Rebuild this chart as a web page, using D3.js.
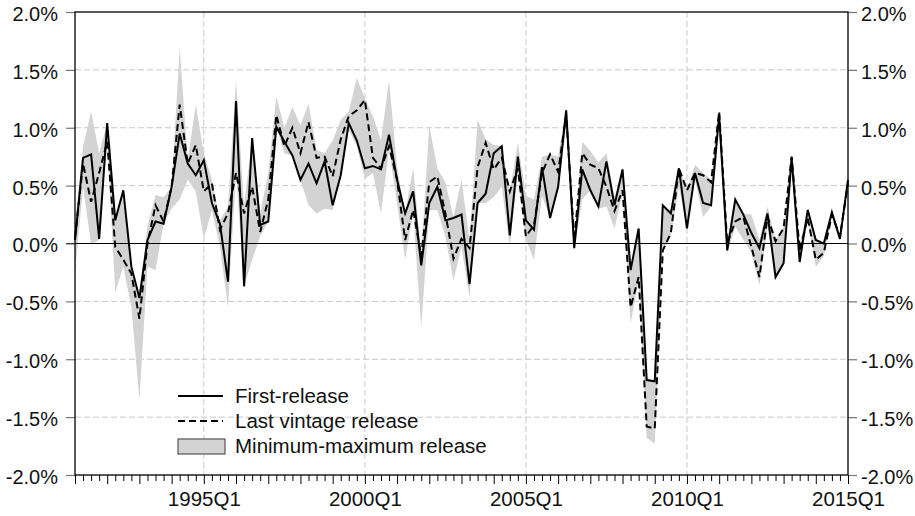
<!DOCTYPE html>
<html lang="en">
<head>
    <meta charset="UTF-8">
    <script src="https://cdn.jsdelivr.net/npm/d3@7/dist/d3.min.js"></script>
    <title>Releases</title>
    <style>
        body { margin: 0; background: #fff; }
        svg { display: block; font-family: "Liberation Sans", Arial, sans-serif; }
    </style>
</head>
<body>
    <svg id="chart"></svg>

<script>
    // quarterly growth, 1991Q1 .. 2015Q1 (percent)
    const quarters = [];
    for (let yr = 1991; yr <= 2015; yr++) {
        for (let q = 1; q <= 4; q++) {
            if (yr === 2015 && q > 1) break;
            quarters.push(`${yr}Q${q}`);
        }
    }

    const firstRelease = [
        0.03, 0.74, 0.77, 0.04, 1.04, 0.20, 0.46, -0.20, -0.47, 0.03,
        0.19, 0.17, 0.49, 0.95, 0.69, 0.59, 0.72, 0.35, 0.17, -0.33,
        1.23, -0.37, 0.91, 0.16, 0.19, 1.01, 0.88, 0.76, 0.55, 0.69,
        0.52, 0.71, 0.33, 0.59, 1.04, 0.89, 0.65, 0.67, 0.64, 0.94,
        0.55, 0.26, 0.45, -0.19, 0.35, 0.49, 0.20, 0.22, 0.25, -0.35,
        0.35, 0.43, 0.78, 0.84, 0.07, 0.75, 0.20, 0.12, 0.66, 0.22,
        0.49, 1.15, -0.04, 0.64, 0.46, 0.32, 0.71, 0.33, 0.64, -0.23,
        0.13, -1.18, -1.19, 0.33, 0.26, 0.65, 0.13, 0.61, 0.35, 0.33,
        1.11, -0.06, 0.38, 0.25, 0.09, -0.04, 0.26, -0.29, -0.17, 0.74,
        -0.16, 0.29, 0.03, 0.00, 0.27, 0.04, 0.55
    ];

    const lastVintage = [
        0.05, 0.69, 0.36, 0.61, 0.88, -0.03, -0.14, -0.26, -0.65, 0.00,
        0.33, 0.19, 0.49, 1.20, 0.69, 0.85, 0.45, 0.52, 0.12, 0.26,
        0.61, 0.26, 0.49, 0.10, 0.38, 1.11, 0.84, 1.00, 0.78, 1.05,
        0.74, 0.75, 0.58, 0.90, 1.10, 1.15, 1.24, 0.74, 0.65, 0.84,
        0.55, 0.03, 0.29, -0.11, 0.53, 0.58, 0.26, -0.13, 0.04, -0.04,
        0.66, 0.87, 0.64, 0.74, 0.45, 0.65, 0.06, 0.16, 0.61, 0.77,
        0.62, 1.11, 0.03, 0.78, 0.68, 0.65, 0.49, 0.28, 0.46, -0.55,
        -0.29, -1.58, -1.60, -0.06, 0.09, 0.65, 0.46, 0.61, 0.59, 0.53,
        1.14, 0.00, 0.19, 0.23, -0.03, -0.29, 0.23, 0.02, 0.13, 0.75,
        -0.06, 0.22, -0.14, -0.08, 0.25, 0.06, 0.52
    ];

    const maxRelease = [
        0.15, 0.84, 1.14, 0.78, 1.04, 0.20, 0.46, -0.20, -0.47, 0.15,
        0.42, 0.40, 0.49, 1.69, 0.72, 1.20, 0.78, 0.55, 0.20, 0.32,
        1.41, 0.32, 0.92, 0.26, 0.61, 1.27, 1.00, 1.18, 1.02, 1.21,
        0.81, 0.78, 0.89, 1.07, 1.14, 1.43, 1.25, 1.10, 0.89, 1.41,
        0.66, 0.26, 0.65, -0.09, 1.02, 0.65, 0.53, 0.23, 0.55, 0.03,
        1.07, 0.90, 0.85, 0.84, 0.45, 0.87, 0.41, 0.38, 0.75, 0.77,
        0.75, 1.17, 0.06, 0.88, 0.80, 0.70, 0.78, 0.40, 0.66, -0.23,
        0.13, -1.16, -1.19, 0.33, 0.26, 0.66, 0.46, 0.68, 0.61, 0.55,
        1.14, 0.03, 0.38, 0.26, 0.25, 0.03, 0.32, 0.03, 0.14, 0.77,
        0.00, 0.29, 0.03, 0.00, 0.28, 0.07, 0.55
    ];

    const minRelease = [
        -0.26, 0.49, -0.01, 0.03, 0.88, -0.42, -0.20, -0.55, -1.35, -0.20,
        -0.23, 0.17, 0.30, 0.38, 0.55, 0.45, 0.04, 0.29, -0.03, -0.55,
        0.61, -0.37, -0.14, 0.06, 0.19, 1.01, 0.78, 0.76, 0.55, 0.33,
        0.26, 0.30, 0.29, 0.58, 0.98, 0.84, 0.56, 0.61, 0.26, 0.81,
        0.35, -0.14, 0.26, -0.73, 0.29, 0.29, 0.06, -0.32, -0.03, -0.47,
        0.35, 0.35, 0.40, 0.49, -0.03, 0.61, 0.03, -0.14, 0.41, 0.22,
        0.46, 1.01, -0.06, 0.38, 0.46, 0.30, 0.32, 0.13, 0.43, -0.69,
        -0.32, -1.68, -1.73, -0.06, 0.06, 0.49, 0.13, 0.55, 0.23, 0.32,
        1.07, -0.09, 0.15, 0.03, -0.08, -0.36, 0.15, -0.29, -0.17, 0.71,
        -0.17, 0.20, -0.20, -0.11, 0.23, 0.03, 0.52
    ];

    const xLabels = ["1995Q1", "2000Q1", "2005Q1", "2010Q1", "2015Q1"];
    const yTicks = [-2, -1.5, -1, -0.5, 0, 0.5, 1, 1.5, 2];
    const legendItems = ["First-release", "Last vintage release", "Minimum-maximum release"];

    const width = 915, height = 516;
    const margin = {top: 12, right: 67, bottom: 41, left: 75};
    const fontSize = 20;

    const svg = d3.select("#chart")
        .attr("width", width)
        .attr("height", height);

    const x = d3.scalePoint()
        .domain(quarters)
        .range([margin.left, width - margin.right]);

    const y = d3.scaleLinear()
        .domain([-2, 2])
        .range([height - margin.bottom, margin.top]);

    const data = quarters.map((q, i) => ({
        q,
        first: firstRelease[i],
        last: lastVintage[i],
        lo: Math.min(minRelease[i], firstRelease[i], lastVintage[i]),
        hi: Math.max(maxRelease[i], firstRelease[i], lastVintage[i])
    }));

    // grid
    const grid = svg.append("g")
        .attr("stroke", "#c8c8c8")
        .attr("stroke-width", 1)
        .attr("stroke-dasharray", "6,3");

    grid.selectAll("line.h")
        .data(yTicks.filter(d => d !== 0 && Math.abs(d) !== 2))
        .join("line")
        .attr("class", "h")
        .attr("x1", margin.left)
        .attr("x2", width - margin.right)
        .attr("y1", d => y(d))
        .attr("y2", d => y(d));

    grid.selectAll("line.v")
        .data(xLabels.slice(0, -1))
        .join("line")
        .attr("class", "v")
        .attr("x1", d => x(d))
        .attr("x2", d => x(d))
        .attr("y1", margin.top)
        .attr("y2", height - margin.bottom);

    // min-max band
    svg.append("path")
        .datum(data)
        .attr("fill", "#d3d3d3")
        .attr("d", d3.area()
            .x(d => x(d.q))
            .y0(d => y(d.lo))
            .y1(d => y(d.hi)));

    // zero line
    svg.append("line")
        .attr("x1", margin.left - 9)
        .attr("x2", width - margin.right)
        .attr("y1", y(0))
        .attr("y2", y(0))
        .attr("stroke", "#000")
        .attr("stroke-width", 1.2);

    const line = key => d3.line()
        .x(d => x(d.q))
        .y(d => y(d[key]));

    svg.append("path")
        .datum(data)
        .attr("fill", "none")
        .attr("stroke", "#000")
        .attr("stroke-width", 2)
        .attr("stroke-dasharray", "7,4")
        .attr("d", line("last"));

    svg.append("path")
        .datum(data)
        .attr("fill", "none")
        .attr("stroke", "#000")
        .attr("stroke-width", 2)
        .attr("stroke-linejoin", "miter")
        .attr("d", line("first"));

    // axes (plain hyphen for negatives, as in the original)
    const fmt = d => d3.format(".1f")(d).replace("\u2212", "-") + "%";

    const yLeft = svg.append("g")
        .attr("transform", `translate(${margin.left},0)`)
        .call(d3.axisLeft(y).tickValues(yTicks).tickFormat(fmt).tickSize(9).tickPadding(8));

    const yRight = svg.append("g")
        .attr("transform", `translate(${width - margin.right},0)`)
        .call(d3.axisRight(y).tickValues(yTicks).tickFormat(fmt).tickSize(9).tickPadding(4));

    [yLeft, yRight].forEach(g => {
        g.select(".domain").remove();
        g.selectAll(".tick line").attr("stroke", "#777").attr("stroke-width", 1.2);
        g.selectAll(".tick text")
            .attr("font-size", fontSize)
            .attr("font-family", "Liberation Sans, Arial, sans-serif")
            .attr("fill", "#111")
            .attr("dy", "0.42em");
    });

    const xAxis = svg.append("g")
        .attr("transform", `translate(0,${height - margin.bottom})`)
        .call(d3.axisBottom(x)
            .tickValues(quarters)
            .tickSize(6)
            .tickFormat(d => xLabels.includes(d) ? d : ""));

    xAxis.select(".domain").remove();
    xAxis.selectAll(".tick line")
        .attr("stroke", "#000")
        .attr("stroke-width", 1)
        .attr("y2", d => d.endsWith("Q1") ? 9 : 6);
    xAxis.selectAll(".tick text")
        .attr("font-size", 20.5)
        .attr("font-family", "Liberation Sans, Arial, sans-serif")
        .attr("fill", "#111")
        .attr("y", 13)
        .attr("dy", "0.9em");

    // frame
    svg.append("rect")
        .attr("x", margin.left)
        .attr("y", margin.top)
        .attr("width", width - margin.left - margin.right)
        .attr("height", height - margin.top - margin.bottom)
        .attr("fill", "none")
        .attr("stroke", "#000")
        .attr("stroke-width", 1.3);

    // legend
    const legend = svg.append("g")
        .attr("transform", "translate(178,396)")
        .attr("font-size", 20.5);

    legendItems.forEach((label, i) => {
        const g = legend.append("g").attr("transform", `translate(0,${i * 25})`);
        if (i < 2) {
            g.append("line")
                .attr("x1", 0).attr("x2", 45)
                .attr("y1", 0).attr("y2", 0)
                .attr("stroke", "#000")
                .attr("stroke-width", 2)
                .attr("stroke-dasharray", i === 1 ? "7,4" : null);
        } else {
            g.append("rect")
                .attr("x", 0).attr("y", -7)
                .attr("width", 47).attr("height", 15)
                .attr("fill", "#d3d3d3")
                .attr("stroke", "#555")
                .attr("stroke-width", 1.2);
        }
        g.append("text")
            .attr("x", 57)
            .attr("y", 7)
            .attr("fill", "#111")
            .text(label);
    });
</script>
</body>
</html>
